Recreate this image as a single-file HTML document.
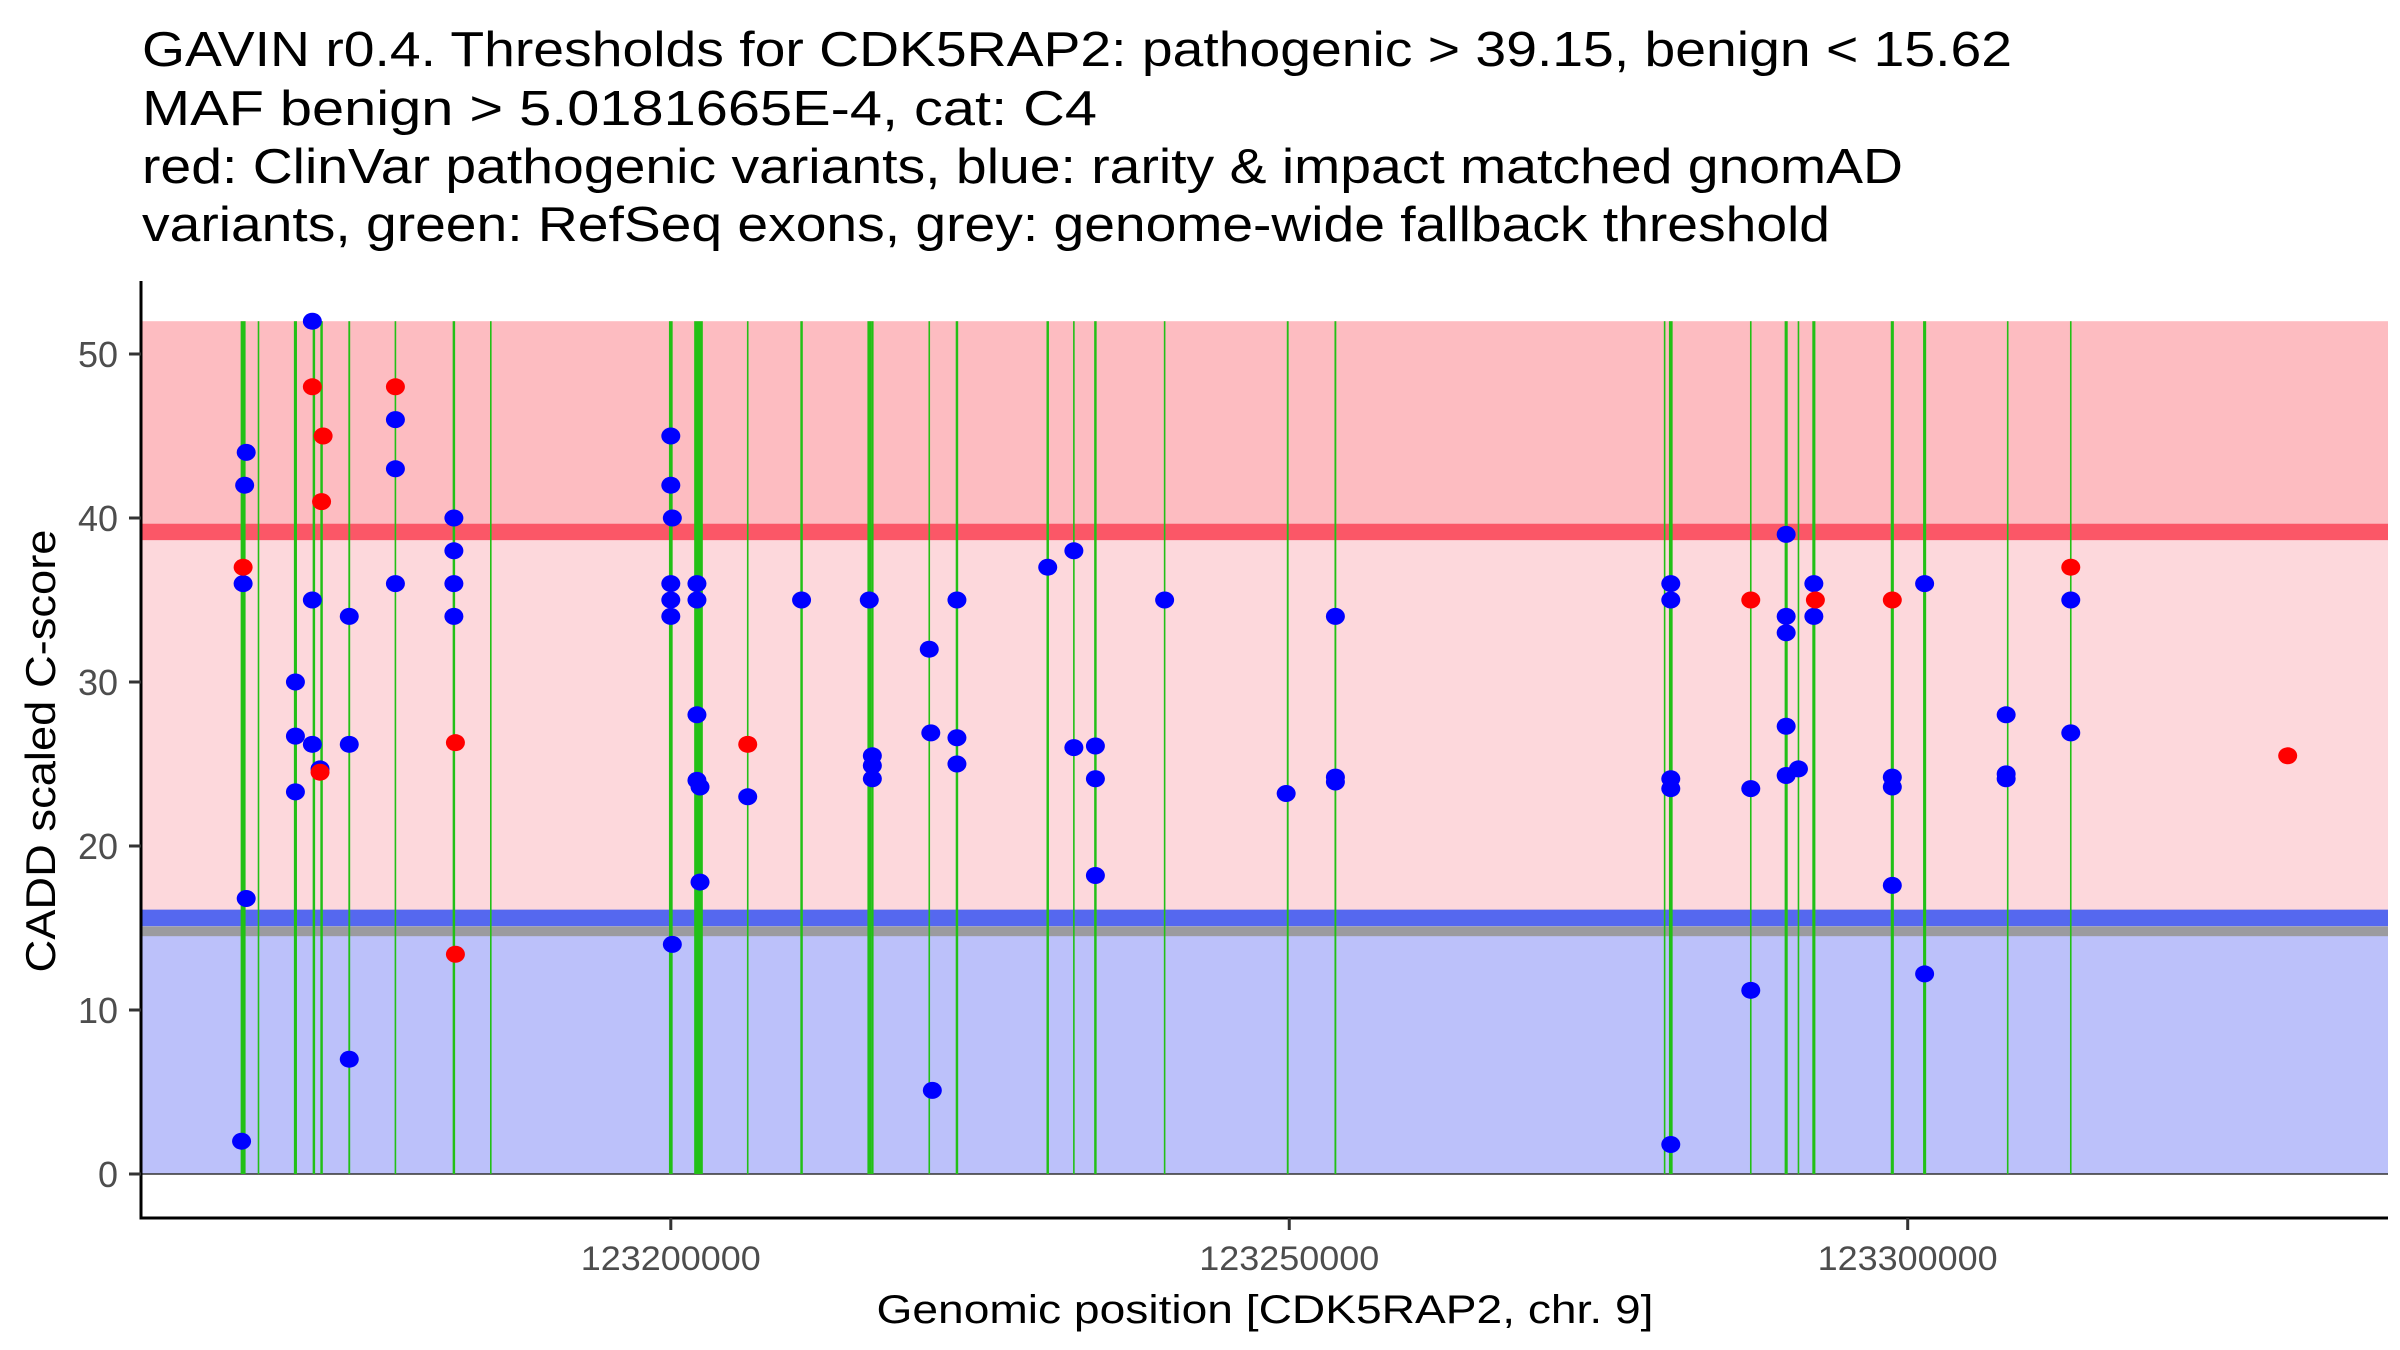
<!DOCTYPE html>
<html><head><meta charset="utf-8"><title>GAVIN CDK5RAP2</title>
<style>html,body{margin:0;padding:0;background:#fff;}svg{display:block;}</style></head>
<body>
<svg id="chart" width="2400" height="1350" viewBox="0 0 2400 1350" xmlns="http://www.w3.org/2000/svg" font-family="Liberation Sans, Arial, sans-serif">
<g fill="#000" font-size="49">
<text x="142" y="66" textLength="1870" lengthAdjust="spacingAndGlyphs">GAVIN r0.4. Thresholds for CDK5RAP2: pathogenic &gt; 39.15, benign &lt; 15.62</text>
<text x="142" y="125" textLength="955" lengthAdjust="spacingAndGlyphs">MAF benign &gt; 5.0181665E-4, cat: C4</text>
<text x="142" y="183" textLength="1761" lengthAdjust="spacingAndGlyphs">red: ClinVar pathogenic variants, blue: rarity &amp; impact matched gnomAD</text>
<text x="142" y="241" textLength="1688" lengthAdjust="spacingAndGlyphs">variants, green: RefSeq exons, grey: genome-wide fallback threshold</text>
</g>
<g id="bands"></g>
<g id="exons"></g>
<g id="points"></g>
<g id="axes"></g>
<text transform="translate(55,751) rotate(-90)" text-anchor="middle" font-size="42" fill="#000" textLength="443" lengthAdjust="spacingAndGlyphs">CADD scaled C-score</text>
<text x="1265" y="1323" text-anchor="middle" font-size="40" fill="#000" textLength="777" lengthAdjust="spacingAndGlyphs">Genomic position [CDK5RAP2, chr. 9]</text>
</svg>
<script>
const yTicks = [0, 10, 20, 30, 40, 50];
const xTicks = [123200000, 123250000, 123300000];
const xTickLabels = ["123200000", "123250000", "123300000"];
const pathogenicThreshold = 39.15;
const benignThreshold = 15.62;
const fallbackThreshold = 14.8;
const scoreMax = 52;
const exonStart = [123165423,123166667,123169652,123171144,123171766,123174005,123177736,123182463,123185448,123200000,123202239,123206219,123210572,123216045,123216294,123220896,123223134,123230473,123232587,123234328,123239925,123249876,123253731,123280348,123280846,123287313,123290174,123291169,123292413,123298756,123301368,123308085,123313184];
const exonLen = [400,100,250,200,200,150,100,200,80,300,700,100,200,300,200,100,200,200,100,200,100,150,150,100,300,100,250,100,250,250,250,100,100];
const bluePos = [123165672,123165547,123165423,123165672,123165298,
 123169652,123169652,123169652,123171020,123171020,123171020,123171642,
 123174005,123174005,123174005,123177736,123177736,123177736,
 123182463,123182463,123182463,123182463,
 123200000,123200000,123200000,123200000,123200000,123200124,123200124,
 123202114,123202114,123202114,123202114,123202363,123202363,
 123206219,123210572,123216045,123216294,123216294,123216294,
 123220896,123221020,123221144,123223134,123223134,123223134,
 123230473,123232587,123232587,123234328,123234328,123234328,123239925,
 123249751,123253731,123253731,123253731,
 123280846,123280846,123280846,123280846,123280846,
 123287313,123287313,123290174,123290174,123290174,123290174,123290174,123291169,
 123292413,123292413,123298756,123298756,123298756,123301368,123301368,
 123307960,123307960,123307960,123313184,123313184];
const blueScore = [44,42,36,16.8,2,
 30,26.7,23.3,52,35,26.2,24.7,
 34,26.2,7,46,43,36,
 40,38,36,34,
 45,42,36,35,34,40,14,
 36,35,28,24,23.6,17.8,
 23,35,35,25.5,24.9,24.1,
 32,26.9,5.1,35,26.6,25,
 37,38,26,26.1,24.1,18.2,35,
 23.2,34,24.2,23.9,
 36,35,24.1,23.5,1.8,
 23.5,11.2,39,34,33,27.3,24.3,24.7,
 36,34,24.2,23.6,17.6,36,12.2,
 28,24.4,24.1,35,26.9];
const redPos = [123165423,123171020,123171891,123171766,123171642,123177736,123182587,123182587,123206219,123287313,123292537,123298756,123313184,123330721];
const redScore = [37,48,45,41,24.5,48,26.3,13.4,26.2,35,35,35,37,25.5];

const NS = "http://www.w3.org/2000/svg";
const X0 = 141, X1 = 2388, Ytop = 281, Ybot = 1218;
function xScale(p){ return 670.8 + (p - 123200000) / 1000 * 12.369; }
function yScale(v){ return 1174 - v * 16.4; }
function mk(tag, attrs, parent){ const e = document.createElementNS(NS, tag); for (const k in attrs) e.setAttribute(k, attrs[k]); parent.appendChild(e); return e; }

const bands = document.getElementById('bands');
let r;
r = mk('rect', {x:X0, y:yScale(scoreMax), width:X1-X0, height:yScale(pathogenicThreshold)-yScale(scoreMax), fill:'#fdbcc1'}, bands);


r = mk('rect', {x:X0, y:yScale(pathogenicThreshold), width:X1-X0, height:yScale(benignThreshold)-yScale(pathogenicThreshold), fill:'#fdd8dc'}, bands);


r = mk('rect', {x:X0, y:yScale(benignThreshold), width:X1-X0, height:yScale(0)-yScale(benignThreshold), fill:'#bcc1fa'}, bands);


r = mk('rect', {x:X0, y:yScale(pathogenicThreshold+0.5), width:X1-X0, height:yScale(pathogenicThreshold-0.5)-yScale(pathogenicThreshold+0.5), fill:'#fb5767'}, bands);


r = mk('rect', {x:X0, y:yScale(fallbackThreshold+0.3), width:X1-X0, height:yScale(fallbackThreshold-0.3)-yScale(fallbackThreshold+0.3), fill:'#9b9b9f'}, bands);


r = mk('rect', {x:X0, y:yScale(benignThreshold+0.5), width:X1-X0, height:yScale(benignThreshold-0.5)-yScale(benignThreshold+0.5), fill:'#5568ef'}, bands);


r = mk('line', {x1:X0, x2:X1, y1:yScale(0), y2:yScale(0), stroke:'#333', 'stroke-width':1.5}, bands);



const exons = document.getElementById('exons');
for (let i = 0; i < exonStart.length; i++) {
  const w = Math.max(1.6, exonLen[i] / 1000 * 12.369);
  const e = mk('rect', {x:xScale(exonStart[i]) - w/2, y:yScale(scoreMax), width:w, height:yScale(0)-yScale(scoreMax), fill:'#22c016'}, exons);
  
  
}

const pts = document.getElementById('points');
for (let i = 0; i < bluePos.length; i++) {
  const c = mk('ellipse', {cx:xScale(bluePos[i]), cy:yScale(blueScore[i]), rx:9.5, ry:8.5, fill:'#0000ff'}, pts);
  
  
}
for (let i = 0; i < redPos.length; i++) {
  const c = mk('ellipse', {cx:xScale(redPos[i]), cy:yScale(redScore[i]), rx:9.5, ry:8.5, fill:'#ff0000'}, pts);
  
  
}

const axes = document.getElementById('axes');
let a = mk('line', {x1:X0, x2:X0, y1:Ytop, y2:Ybot+1.5, stroke:'#000', 'stroke-width':3}, axes);


a = mk('line', {x1:X0-1.5, x2:X1, y1:Ybot, y2:Ybot, stroke:'#000', 'stroke-width':3}, axes);


for (let i = 0; i < yTicks.length; i++) {
  const y = yScale(yTicks[i]);
  const t = mk('line', {x1:X0-12, x2:X0, y1:y, y2:y, stroke:'#333', 'stroke-width':3}, axes);
  
  
  const l = mk('text', {x:X0-23, y:y+13, 'text-anchor':'end', 'font-size':36, fill:'#4d4d4d'}, axes);
  l.textContent = String(yTicks[i]);
  
  
}
for (let i = 0; i < xTicks.length; i++) {
  const x = xScale(xTicks[i]);
  const t = mk('line', {x1:x, x2:x, y1:Ybot, y2:Ybot+12, stroke:'#333', 'stroke-width':3}, axes);
  
  
  const l = mk('text', {x:x, y:Ybot+52, 'text-anchor':'middle', 'font-size':34, fill:'#4d4d4d', textLength:180, lengthAdjust:'spacingAndGlyphs'}, axes);
  l.textContent = xTickLabels[i];
  
  
}
</script>
</body></html>
